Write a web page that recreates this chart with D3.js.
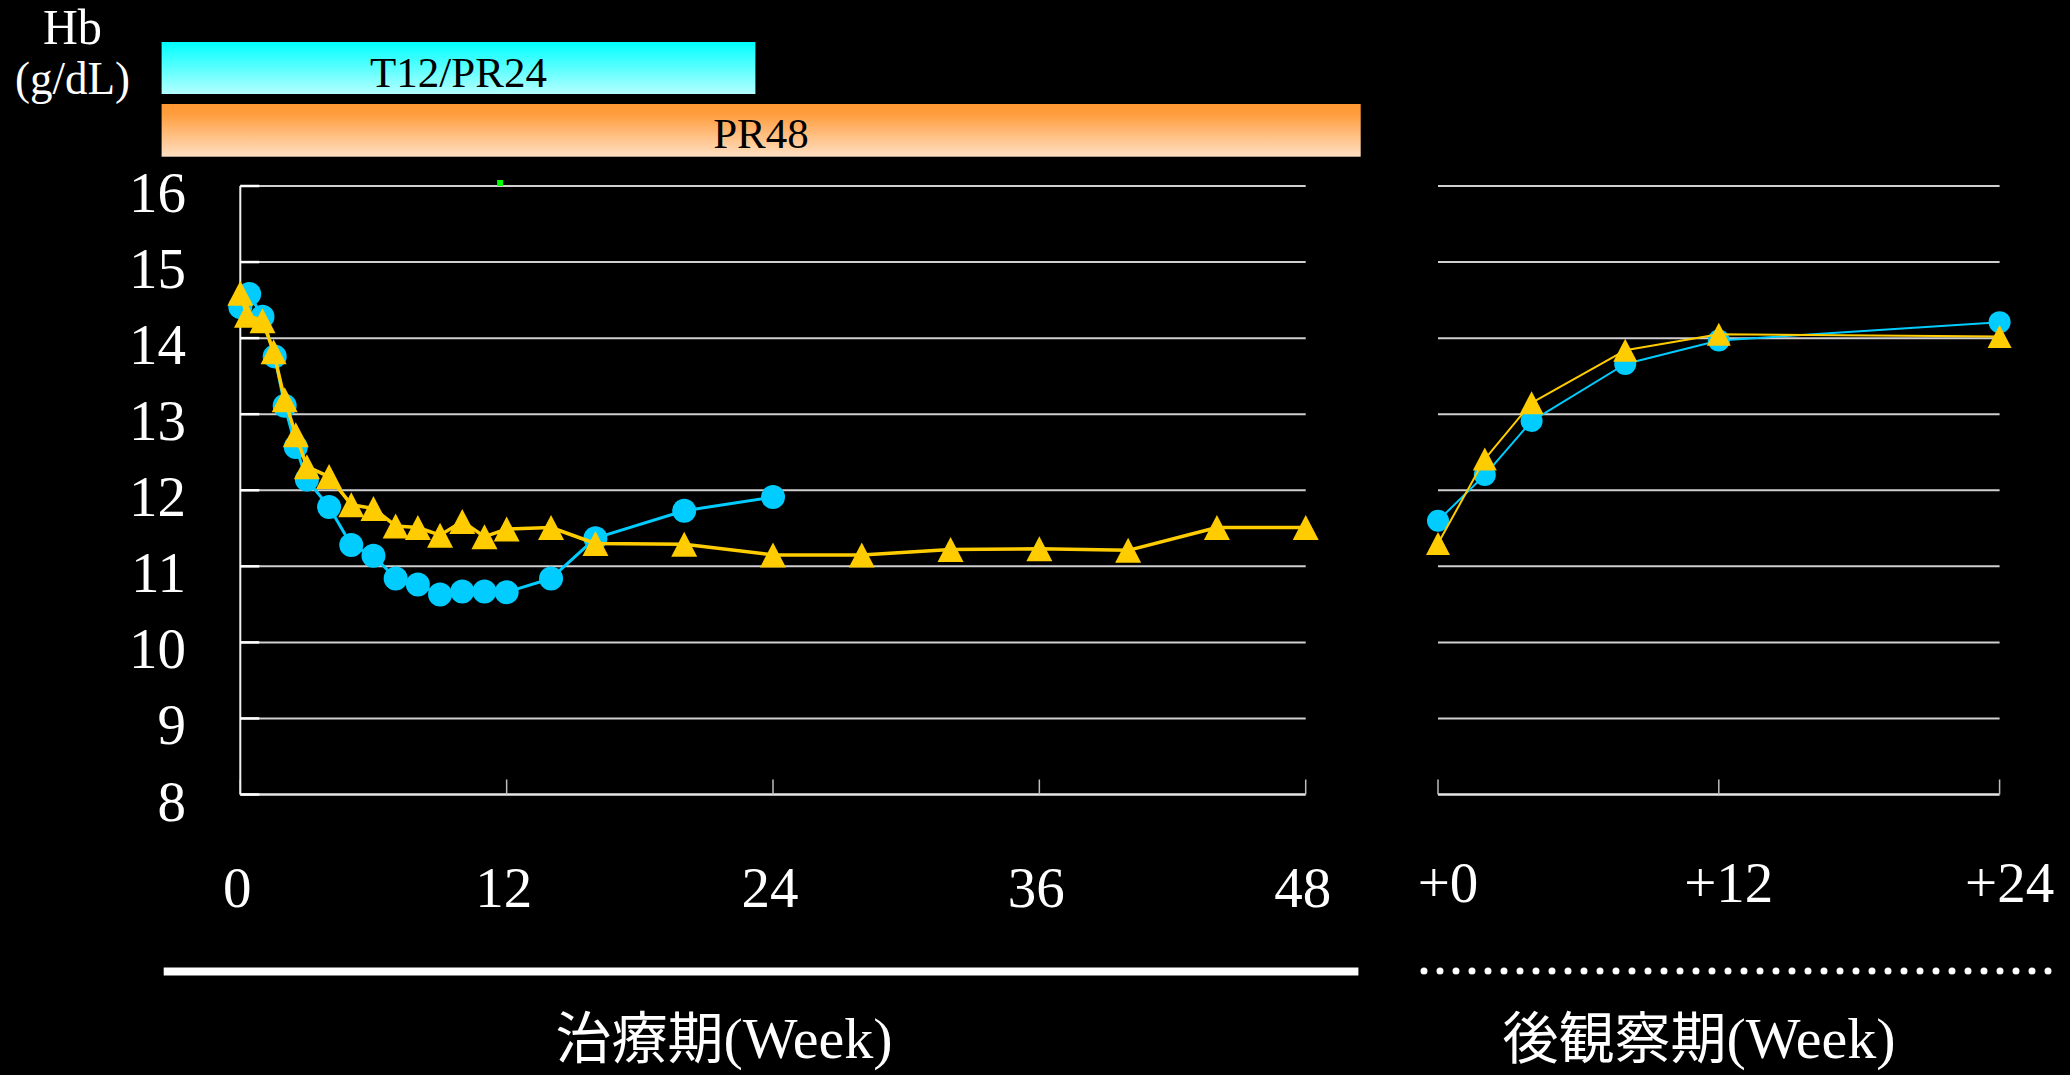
<!DOCTYPE html>
<html>
<head>
<meta charset="utf-8">
<script src="https://cdn.jsdelivr.net/npm/d3@7"></script>
<style>
  html, body { margin: 0; padding: 0; background: #000; }
  svg { display: block; }
</style>
</head>
<body>
<svg id="chart" width="2070" height="1075"></svg>
<script>
// ---------------- DATA ----------------
const yTicks = [8, 9, 10, 11, 12, 13, 14, 15, 16];
const xMainTicks = [0, 12, 24, 36, 48];
const xMainLabels = ["0", "12", "24", "36", "48"];
const xFuTicks = [0, 12, 24];
const xFuLabels = ["+0", "+12", "+24"];

// Treatment period (weeks) – T12/PR24 group (circles)
const blueWeeks  = [0, 0.4, 1, 1.55, 2, 2.5, 3, 4, 5, 6, 7, 8, 9, 10, 11, 12, 14, 16, 20, 24];
const blueValues = [14.41, 14.58, 14.28, 13.76, 13.11, 12.57, 12.14, 11.78, 11.28, 11.14, 10.84, 10.76, 10.63, 10.67, 10.67, 10.66, 10.84, 11.37, 11.73, 11.91];

// Treatment period (weeks) – PR48 group (triangles)
const yellowWeeks  = [0, 0.3, 1, 1.5, 2, 2.5, 3, 4, 5, 6, 7, 8, 9, 10, 11, 12, 14, 16, 20, 24, 28, 32, 36, 40, 44, 48];
const yellowValues = [14.59, 14.30, 14.23, 13.82, 13.19, 12.73, 12.31, 12.18, 11.81, 11.76, 11.53, 11.51, 11.41, 11.59, 11.39, 11.49, 11.51, 11.30, 11.29, 11.15, 11.15, 11.22, 11.23, 11.21, 11.51, 11.51];

// Follow-up period (weeks after end)
const fuWeeks        = [0, 2, 4, 8, 12, 24];
const blueFuValues   = [11.60, 12.20, 12.91, 13.66, 13.97, 14.21];
const yellowFuValues = [11.30, 12.41, 13.15, 13.84, 14.05, 14.02];

const regimenLabels = ["T12/PR24", "PR48"];
const yTitle = ["Hb", "(g/dL)"];
const periodLabels = ["治療期(Week)", "後観察期(Week)"];

// ---------------- STYLE ----------------
const BLUE = "#00CCFF";
const YELLOW = "#FFCC00";
const SERIF = "'Liberation Serif', 'DejaVu Serif', serif";
const CJK = "'Noto Sans CJK JP', sans-serif";

const svg = d3.select("#chart");
svg.append("rect").attr("width", 2070).attr("height", 1075).attr("fill", "#000");

const defs = svg.append("defs");
const gC = defs.append("linearGradient").attr("id", "gradCyan").attr("x1", 0).attr("y1", 0).attr("x2", 0).attr("y2", 1);
gC.append("stop").attr("offset", 0).attr("stop-color", "#00FFFF");
gC.append("stop").attr("offset", 1).attr("stop-color", "#B4FFFF");
const gO = defs.append("linearGradient").attr("id", "gradOrange").attr("x1", 0).attr("y1", 0).attr("x2", 0).attr("y2", 1);
gO.append("stop").attr("offset", 0).attr("stop-color", "#FF9933");
gO.append("stop").attr("offset", 0.18).attr("stop-color", "#FF9C3C");
gO.append("stop").attr("offset", 1).attr("stop-color", "#FFE0C4");

// ---------------- SCALES ----------------
const y = d3.scaleLinear().domain([8, 16]).range([794.5, 186]);
const xMain = d3.scaleLinear().domain([0, 48]).range([240.3, 1305.7]);
const xFu = d3.scaleLinear().domain([0, 24]).range([1438, 1999.6]);

// ---------------- REGIMEN BARS ----------------
svg.append("rect").attr("x", 161.6).attr("y", 42).attr("width", 593.8).attr("height", 52)
  .attr("fill", "url(#gradCyan)");
svg.append("text").attr("x", 458.5).attr("y", 86.5).attr("text-anchor", "middle")
  .attr("font-family", SERIF).attr("font-size", 43).attr("fill", "#000").text(regimenLabels[0]);
svg.append("rect").attr("x", 161.6).attr("y", 104).attr("width", 1199.1).attr("height", 52.7)
  .attr("fill", "url(#gradOrange)");
svg.append("text").attr("x", 761).attr("y", 148).attr("text-anchor", "middle")
  .attr("font-family", SERIF).attr("font-size", 43).attr("fill", "#000").text(regimenLabels[1]);

// ---------------- Y TITLE ----------------
svg.append("text").attr("x", 72.5).attr("y", 43.5).attr("text-anchor", "middle")
  .attr("font-family", SERIF).attr("font-size", 50).attr("fill", "#fff")
  .attr("textLength", 59).attr("lengthAdjust", "spacingAndGlyphs").text(yTitle[0]);
svg.append("text").attr("x", 72.5).attr("y", 94).attr("text-anchor", "middle")
  .attr("font-family", SERIF).attr("font-size", 46).attr("fill", "#fff")
  .attr("textLength", 115).attr("lengthAdjust", "spacingAndGlyphs").text(yTitle[1]);

// ---------------- GRIDS / AXES ----------------
function panel(x, x0, x1, hasLeftAxis, ticks) {
  const g = svg.append("g");
  g.selectAll("line.grid").data(yTicks.filter(t => t > 8)).enter().append("line")
    .attr("x1", x(x0)).attr("x2", x(x1))
    .attr("y1", d => y(d)).attr("y2", d => y(d))
    .attr("stroke", "#cfcfcf").attr("stroke-width", 2);
  g.append("line").attr("x1", x(x0)).attr("x2", x(x1)).attr("y1", y(8)).attr("y2", y(8))
    .attr("stroke", "#e6e6e6").attr("stroke-width", 2.5);
  g.selectAll("line.xt").data(ticks).enter().append("line")
    .attr("x1", d => x(d)).attr("x2", d => x(d))
    .attr("y1", y(8)).attr("y2", y(8) - 15)
    .attr("stroke", "#bdbdbd").attr("stroke-width", 1.5);
  if (hasLeftAxis) {
    g.append("line").attr("x1", x(x0)).attr("x2", x(x0)).attr("y1", y(16)).attr("y2", y(8))
      .attr("stroke", "#f0f0f0").attr("stroke-width", 2);
    g.selectAll("line.yt").data(yTicks).enter().append("line")
      .attr("x1", x(x0)).attr("x2", x(x0) + 19)
      .attr("y1", d => y(d)).attr("y2", d => y(d))
      .attr("stroke", "#ffffff").attr("stroke-width", 2.5);
  }
}
panel(xMain, 0, 48, true, xMainTicks);
panel(xFu, 0, 24, false, xFuTicks);

svg.selectAll("text.ylab").data(yTicks).enter().append("text")
  .attr("x", 186).attr("y", d => y(d) + 26).attr("text-anchor", "end")
  .attr("font-family", SERIF).attr("font-size", 57).attr("fill", "#fff")
  .text(d => d);

svg.selectAll("text.xlab").data(xMainTicks).enter().append("text")
  .attr("x", d => xMain(d) - 3).attr("y", 906.5).attr("text-anchor", "middle")
  .attr("font-family", SERIF).attr("font-size", 57).attr("fill", "#fff")
  .text((d, i) => xMainLabels[i]);
svg.selectAll("text.xfulab").data(xFuTicks).enter().append("text")
  .attr("x", d => xFu(d) + 10).attr("y", 902).attr("text-anchor", "middle")
  .attr("font-family", SERIF).attr("font-size", 57).attr("fill", "#fff")
  .text((d, i) => xFuLabels[i]);

// small green mark near top
svg.append("rect").attr("x", xMain(12) - 9.5).attr("y", y(16) - 6).attr("width", 6).attr("height", 6)
  .attr("fill", "#00FF00");

// ---------------- SERIES ----------------
function triPath(w, h) {
  return `M0,${-h / 2}L${w / 2},${h / 2}L${-w / 2},${h / 2}Z`;
}
function series(x, weeks, vals, color, lineW, kind, size) {
  const pts = weeks.map((w, i) => [w, vals[i]]);
  const line = d3.line().x(d => x(d[0])).y(d => y(d[1]));
  svg.append("path").datum(pts).attr("d", line).attr("fill", "none")
    .attr("stroke", color).attr("stroke-width", lineW).attr("stroke-linejoin", "round");
  if (kind === "circle") {
    svg.selectAll(null).data(pts).enter().append("circle")
      .attr("cx", d => x(d[0])).attr("cy", d => y(d[1])).attr("r", size.r)
      .attr("fill", color);
  } else {
    svg.selectAll(null).data(pts).enter().append("path")
      .attr("transform", d => `translate(${x(d[0])},${y(d[1])})`)
      .attr("d", triPath(size.w, size.h)).attr("fill", color);
  }
}
series(xMain, blueWeeks, blueValues, BLUE, 3, "circle", { r: 12 });
series(xMain, yellowWeeks, yellowValues, YELLOW, 3.5, "tri", { w: 26, h: 25 });
series(xFu, fuWeeks, blueFuValues, BLUE, 2, "circle", { r: 11 });
series(xFu, fuWeeks, yellowFuValues, YELLOW, 2, "tri", { w: 24, h: 23 });

// ---------------- PERIOD BARS ----------------
svg.append("rect").attr("x", 163.7).attr("y", 967.5).attr("width", 1194.7).attr("height", 8).attr("fill", "#fff");
svg.append("line").attr("x1", 1424).attr("x2", 2049).attr("y1", 971).attr("y2", 971)
  .attr("stroke", "#fff").attr("stroke-width", 7).attr("stroke-linecap", "round")
  .attr("stroke-dasharray", "0 16");

function periodLabel(cx, txt, cjkCount) {
  const t = svg.append("text").attr("x", cx).attr("y", 1058).attr("text-anchor", "middle")
    .attr("fill", "#fff").attr("font-size", 56);
  t.append("tspan").attr("font-family", CJK).text(txt.slice(0, cjkCount));
  t.append("tspan").attr("font-family", SERIF).attr("font-size", 58).text(txt.slice(cjkCount));
}
periodLabel(724, periodLabels[0], 3);
periodLabel(1699, periodLabels[1], 4);
</script>
</body>
</html>
